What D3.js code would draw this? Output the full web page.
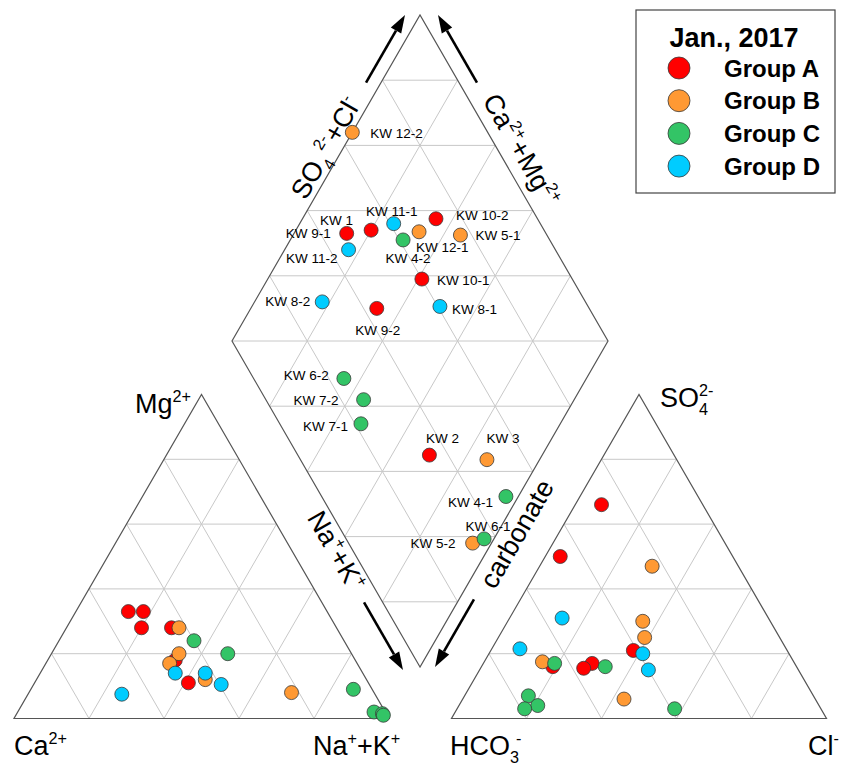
<!DOCTYPE html>
<html>
<head>
<meta charset="utf-8">
<script src="https://cdn.jsdelivr.net/npm/d3@7/dist/d3.min.js"></script>
<style>
    body { margin: 0; background: #fff; }
    text { font-family: "Liberation Sans", Arial, sans-serif; fill: #000; }
</style>
</head>
<body>
<div id="piper"></div>
<script>
// ---- data (percent of meq) ----
var legendTitle = "Jan., 2017";
var groupKeys = ["A", "B", "C", "D"];
var groupNames = ["Group A", "Group B", "Group C", "Group D"];
var gridTicks = [20, 40, 60, 80];

// cation triangle: [group, Ca, Mg, Na+K]
var cations = [
    ["A", 53, 33, 14], ["A", 49, 33, 18], ["A", 52, 28, 20], ["A", 44, 28, 28], ["A", 48, 11, 41], ["A", 48, 18, 34],
    ["B", 42, 28, 30], ["B", 46, 20, 34], ["B", 50, 17, 33], ["B", 43, 12, 45], ["B", 22, 8, 70],
    ["C", 40, 24, 36], ["C", 33, 20, 47], ["C", 5, 9, 86], ["C", 3, 2, 95], ["C", 1, 1.5, 97.5], ["C", 1, 1, 98],
    ["D", 67.5, 7.5, 25], ["D", 50, 14, 36], ["D", 42, 14, 44], ["D", 39.5, 10.5, 50]
];

// anion triangle: [group, HCO3, SO4, Cl]
var anions = [
    ["A", 27, 66, 7], ["A", 46, 50, 4], ["A", 41, 21, 38], ["A", 54, 17, 29], ["A", 57, 15.5, 27.5], ["A", 65, 16, 19],
    ["B", 23, 47, 30], ["B", 34, 30, 36], ["B", 36, 25, 39], ["B", 67, 17.5, 15.5], ["B", 51, 6, 43],
    ["C", 64, 17, 19], ["C", 51, 16, 33], ["C", 76, 7, 17], ["C", 75, 4, 21], ["C", 79, 3, 18], ["C", 39, 3, 58],
    ["D", 55, 31, 14], ["D", 71, 21.5, 7.5], ["D", 39, 20, 41], ["D", 40, 15, 45]
];

// diamond: [sample, group, Ca+Mg, SO4+Cl]
var samples = [
    ["KW 1", "A", 80, 54], ["KW 2", "A", 30, 35], ["KW 9-1", "A", 86, 47], ["KW 9-2", "A", 66.5, 43.5],
    ["KW 10-1", "A", 59, 60], ["KW 10-2", "A", 64.5, 73],
    ["KW 3", "B", 14, 49.6], ["KW 5-1", "B", 55.5, 77], ["KW 5-2", "B", 5, 33], ["KW 12-1", "B", 67, 66.5],
    ["KW 12-2", "B", 100, 64],
    ["KW 4-1", "C", 3.3, 49], ["KW 4-2", "C", 70, 61], ["KW 6-1", "C", 2.6, 36.7], ["KW 6-2", "C", 64.5, 24],
    ["KW 7-1", "C", 53, 21.6], ["KW 7-2", "C", 56, 26],
    ["KW 8-1", "D", 50, 60.6], ["KW 8-2", "D", 82, 30], ["KW 11-1", "D", 75, 61], ["KW 11-2", "D", 83, 45]
];

// ---- layout ----
var svgWidth = 842;
var svgHeight = 769;
var colors = { A: "#ff0000", B: "#ff9933", C: "#33c466", D: "#00ccff" };

// sample label placement relative to its point: [dx, dy, anchor]
var labelPos = {
    "KW 12-2": [18, 1, "start"], "KW 9-1": [-16, 0, "end"], "KW 1": [-18, -10, "end"],
    "KW 11-1": [-2, -12, "middle"], "KW 10-2": [20, -3, "start"], "KW 5-1": [15, 0, "start"],
    "KW 12-1": [-3, 15, "start"], "KW 4-2": [5, 18, "middle"], "KW 11-2": [-11, 9, "end"],
    "KW 10-1": [15, 1, "start"], "KW 8-2": [-12, -1, "end"], "KW 9-2": [1, 22, "middle"],
    "KW 8-1": [12, 3, "start"], "KW 6-2": [-15, -3, "end"], "KW 7-2": [-25, 1, "end"],
    "KW 7-1": [-13, 2, "end"], "KW 2": [13, -17, "middle"], "KW 3": [16, -21, "middle"],
    "KW 4-1": [-13, 6, "end"], "KW 6-1": [4, -13, "middle"], "KW 5-2": [-17, 0, "end"]
};

var svg = d3.select("#piper")
    .append("svg")
    .attr("width", svgWidth)
    .attr("height", svgHeight);

// scales for the two triangles (x along base, y up to apex)
var triW = 375, triH = 324, baseY = 718.5;
var catX = d3.scaleLinear().domain([0, 100]).range([14, 14 + triW]);
var catY = d3.scaleLinear().domain([0, 100]).range([baseY, baseY - triH]);
var anX = d3.scaleLinear().domain([0, 100]).range([451.5, 451.5 + triW]);
var anY = d3.scaleLinear().domain([0, 100]).range([baseY, baseY - triH]);

// diamond: x from (SO4+Cl) - (Ca+Mg), y from (SO4+Cl) + (Ca+Mg)
var dX = d3.scaleLinear().domain([-100, 100]).range([420 - 188, 420 + 188]);
var dY = d3.scaleLinear().domain([0, 200]).range([667, 15]);

function tern(xs, ys, right, top) {
    return [xs(right + top / 2), ys(top)];
}

function dpos(camg, so4cl) {
    return [dX(so4cl - camg), dY(so4cl + camg)];
}

var gridG = svg.append("g")
    .attr("stroke", "#c8c8c8")
    .attr("stroke-width", 1)
    .attr("fill", "none");

var line = d3.line();

function addGrid(segs) {
    segs.forEach(s => gridG.append("path").attr("d", line(s)));
}

// triangle grids
[[catX, catY], [anX, anY]].forEach(([xs, ys]) => {
    var segs = [];
    gridTicks.forEach(v => {
        segs.push([tern(xs, ys, 0, v), tern(xs, ys, 100 - v, v)]);
        segs.push([tern(xs, ys, v, 0), tern(xs, ys, v, 100 - v)]);
        segs.push([tern(xs, ys, 100 - v, 0), tern(xs, ys, 0, 100 - v)]);
    });
    addGrid(segs);
});

// diamond grid
var dSegs = [];
gridTicks.forEach(v => {
    dSegs.push([dpos(v, 0), dpos(v, 100)]);
    dSegs.push([dpos(0, v), dpos(100, v)]);
});
d3.range(20, 200, 20).forEach(s => {
    if (s <= 100) dSegs.push([dpos(s, 0), dpos(0, s)]);
    else dSegs.push([dpos(100, s - 100), dpos(s - 100, 100)]);
});
addGrid(dSegs);

// outlines
var outG = svg.append("g")
    .attr("stroke", "#555")
    .attr("stroke-width", 1.2)
    .attr("fill", "none");

outG.append("path").attr("d", line([tern(catX, catY, 0, 0), tern(catX, catY, 100, 0), tern(catX, catY, 0, 100)]) + "Z");
outG.append("path").attr("d", line([tern(anX, anY, 0, 0), tern(anX, anY, 100, 0), tern(anX, anY, 0, 100)]) + "Z");
outG.append("path").attr("d", line([dpos(0, 0), dpos(100, 0), dpos(100, 100), dpos(0, 100)]) + "Z");

// arrows next to the diamond edges
var dTopPt = dpos(100, 100), dBotPt = dpos(0, 0), dLeftPt = dpos(100, 0);
var ang = Math.atan2(dTopPt[1] - dLeftPt[1], dTopPt[0] - dLeftPt[0]);
var ux = Math.cos(ang), uy = Math.sin(ang); // up-right along edge (ux>0, uy<0)

function arrow(end, dirx, diry) {
    var len = 78, head = 18, hw = 6;
    var start = [end[0] - dirx * len, end[1] - diry * len];
    var base = [end[0] - dirx * head, end[1] - diry * head];
    svg.append("line")
        .attr("x1", start[0]).attr("y1", start[1])
        .attr("x2", base[0]).attr("y2", base[1])
        .attr("stroke", "#000")
        .attr("stroke-width", 2.6);
    svg.append("polygon")
        .attr("points", [end, [base[0] - diry * hw, base[1] + dirx * hw], [base[0] + diry * hw, base[1] - dirx * hw]]
            .map(p => p.join(",")).join(" "))
        .attr("fill", "#000");
}

arrow([dTopPt[0] - 15, dTopPt[1]], ux, uy);
arrow([dTopPt[0] + 18, dTopPt[1]], -ux, uy);
arrow([dBotPt[0] - 17, dBotPt[1] + 3], ux, -uy);
arrow([dBotPt[0] + 15, dBotPt[1]], -ux, -uy);

// text helper: parts are [string, "sup"|"sub"|null, dx]
function richText(g, parts, size) {
    var shift = 0;
    parts.forEach(p => {
        var t = g.append("tspan").text(p[0]);
        var target = p[1] === "sup" ? -size * 0.42 : (p[1] === "sub" ? size * 0.28 : 0);
        t.attr("dy", target - shift);
        if (p[2]) t.attr("dx", p[2]);
        if (p[1]) t.attr("font-size", size * 0.6);
        shift = target;
    });
}

function ionLabel(x, y, parts, anchor) {
    var t = svg.append("text")
        .attr("x", x).attr("y", y)
        .attr("font-size", 27)
        .attr("text-anchor", anchor || "start");
    richText(t, parts, 27);
}

ionLabel(135, 413, [["Mg"], ["2+", "sup"]]);
ionLabel(14, 755, [["Ca"], ["2+", "sup"]]);
ionLabel(313, 755, [["Na"], ["+", "sup"], ["+K"], ["+", "sup"]]);
ionLabel(660, 407, [["SO"], ["4", "sub"], ["2-", "sup", -9]]);
ionLabel(450, 755, [["HCO"], ["3", "sub"], ["-", "sup", -3]]);
ionLabel(808, 755, [["Cl"], ["-", "sup"]]);

function edgeLabel(cx, cy, rot, parts) {
    var t = svg.append("text")
        .attr("transform", `translate(${cx}, ${cy}) rotate(${rot})`)
        .attr("y", 9)
        .attr("font-size", 27)
        .attr("text-anchor", "middle");
    richText(t, parts, 27);
}

edgeLabel(326, 148, -60, [["SO"], ["4", "sub"], ["2-", "sup", 3], ["+Cl"], ["-", "sup"]]);
edgeLabel(521, 150, 60, [["Ca"], ["2+", "sup"], ["+Mg"], ["2+", "sup"]]);
edgeLabel(336, 551, 60, [["Na"], ["+", "sup"], ["+K"], ["+", "sup"]]);
edgeLabel(517, 534, -60, [["carbonate"]]);

// points
function drawPoints(rows, posFn) {
    svg.append("g")
        .selectAll("circle")
        .data(rows)
        .enter()
        .append("circle")
        .attr("cx", d => posFn(d)[0])
        .attr("cy", d => posFn(d)[1])
        .attr("r", 7)
        .attr("fill", d => colors[d[0]])
        .attr("stroke", "#3a3a3a")
        .attr("stroke-width", 0.8);
}

drawPoints(cations, d => tern(catX, catY, d[3], d[2]));
drawPoints(anions, d => tern(anX, anY, d[3], d[2]));

// diamond points, drawn by group order so overlaps stack the same way
var sortedSamples = samples.slice().sort((a, b) => groupKeys.indexOf(a[1]) - groupKeys.indexOf(b[1]));
svg.append("g")
    .selectAll("circle")
    .data(sortedSamples)
    .enter()
    .append("circle")
    .attr("cx", d => dpos(d[2], d[3])[0])
    .attr("cy", d => dpos(d[2], d[3])[1])
    .attr("r", 7)
    .attr("fill", d => colors[d[1]])
    .attr("stroke", "#3a3a3a")
    .attr("stroke-width", 0.8);

svg.append("g")
    .selectAll("text")
    .data(samples)
    .enter()
    .append("text")
    .attr("x", d => dpos(d[2], d[3])[0] + labelPos[d[0]][0])
    .attr("y", d => dpos(d[2], d[3])[1] + labelPos[d[0]][1])
    .attr("dy", "0.35em")
    .attr("text-anchor", d => labelPos[d[0]][2])
    .attr("font-size", 13.5)
    .text(d => d[0]);

// legend
var legend = svg.append("g");
legend.append("rect")
    .attr("x", 636).attr("y", 10)
    .attr("width", 199).attr("height", 183)
    .attr("fill", "#fff")
    .attr("stroke", "#444")
    .attr("stroke-width", 1.2);

legend.append("text")
    .attr("x", 734).attr("y", 47)
    .attr("text-anchor", "middle")
    .attr("font-size", 27)
    .attr("font-weight", "bold")
    .text(legendTitle);

groupKeys.forEach((k, i) => {
    var cy = 68 + i * 32.7;
    legend.append("circle")
        .attr("cx", 679).attr("cy", cy)
        .attr("r", 11)
        .attr("fill", colors[k])
        .attr("stroke", "#3a3a3a")
        .attr("stroke-width", 0.8);
    legend.append("text")
        .attr("x", 724).attr("y", cy)
        .attr("dy", "0.36em")
        .attr("font-size", 24)
        .attr("font-weight", "bold")
        .text(groupNames[i]);
});
</script>
</body>
</html>
